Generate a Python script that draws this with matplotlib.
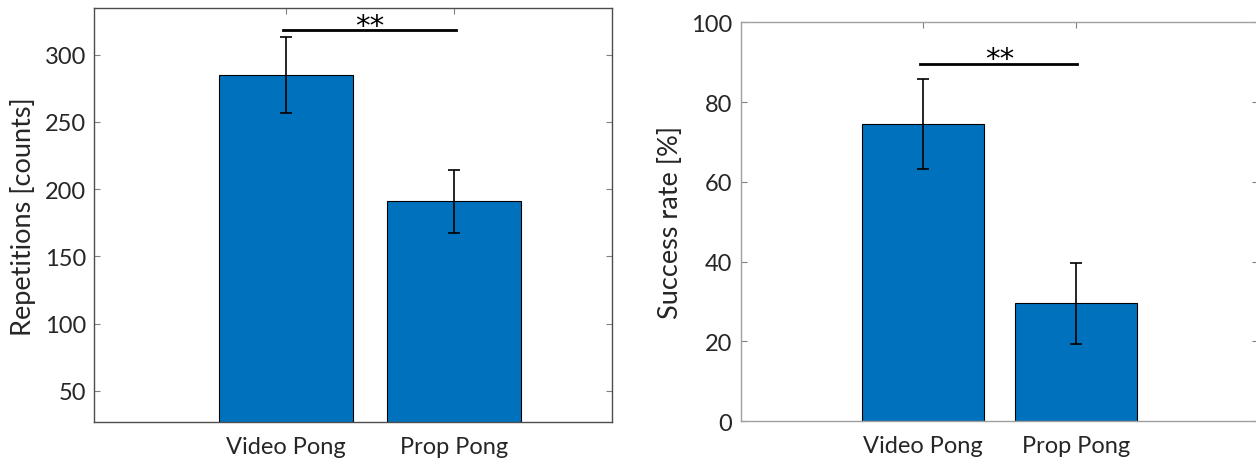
from matplotlib import pyplot as plt
import numpy as np

plt.rcParams['font.family'] = ['Lato', 'DejaVu Sans']

# data
conditions = ['Video Pong', 'Prop Pong']
repetitions = [285, 191]
repetitions_err = [28.5, 23.5]
success_rate = [74.5, 29.5]
success_err = [11.2, 10.1]

BAR_COLOR = '#0072BD'
TEXT_COLOR = '#262626'


def bar_panel(ax, values, errors, ylabel, xlim, ylim, yticks, sig_y, star_y, spine_color):
    x = np.arange(1, len(values) + 1)
    ax.bar(x, values, width=0.8, color=BAR_COLOR, edgecolor='black', linewidth=0.8, zorder=2)
    ax.errorbar(x, values, yerr=errors, fmt='none', ecolor='black', elinewidth=1.2,
                capsize=4, capthick=1.2, zorder=3)
    ax.set_xlim(xlim)
    ax.set_ylim(ylim)
    ax.set_xticks(x)
    ax.set_xticklabels(conditions)
    ax.set_yticks(yticks)
    ax.set_ylabel(ylabel, fontsize=19.5, color=TEXT_COLOR, labelpad=6)
    ax.tick_params(direction='in', top=True, right=True, length=4, width=0.8,
                   color='#808080', labelsize=17, labelcolor=TEXT_COLOR, pad=6)
    ax.tick_params(axis='x', pad=10)
    for s in ax.spines.values():
        s.set_color(spine_color)
        s.set_linewidth(1)
    # significance bracket
    ax.plot([x[0] - 0.02, x[1] + 0.01], [sig_y, sig_y], color='black', lw=2, zorder=4,
            clip_on=False)
    ax.text((x[0] + x[1]) / 2, star_y, '**', ha='center', va='center',
            fontsize=21, family='DejaVu Sans', color='black')


fig = plt.figure(figsize=(12.56, 4.6), dpi=100)
ax1 = fig.add_axes([0.0751, 0.0798, 0.4124, 0.900])
ax2 = fig.add_axes([0.5897, 0.0826, 0.4119, 0.8667])

bar_panel(ax1, repetitions, repetitions_err, 'Repetitions [counts]',
          (-0.141, 2.942), (26.7, 334.5), [50, 100, 150, 200, 250, 300], 318.6, 321.5, '#4d4d4d')
bar_panel(ax2, success_rate, success_err, 'Success rate [%]',
          (-0.19, 3.19), (0, 100), [0, 20, 40, 60, 80, 100], 89.5, 90.8, '#a0a0a0')

fig.savefig('out.png', dpi=100)
